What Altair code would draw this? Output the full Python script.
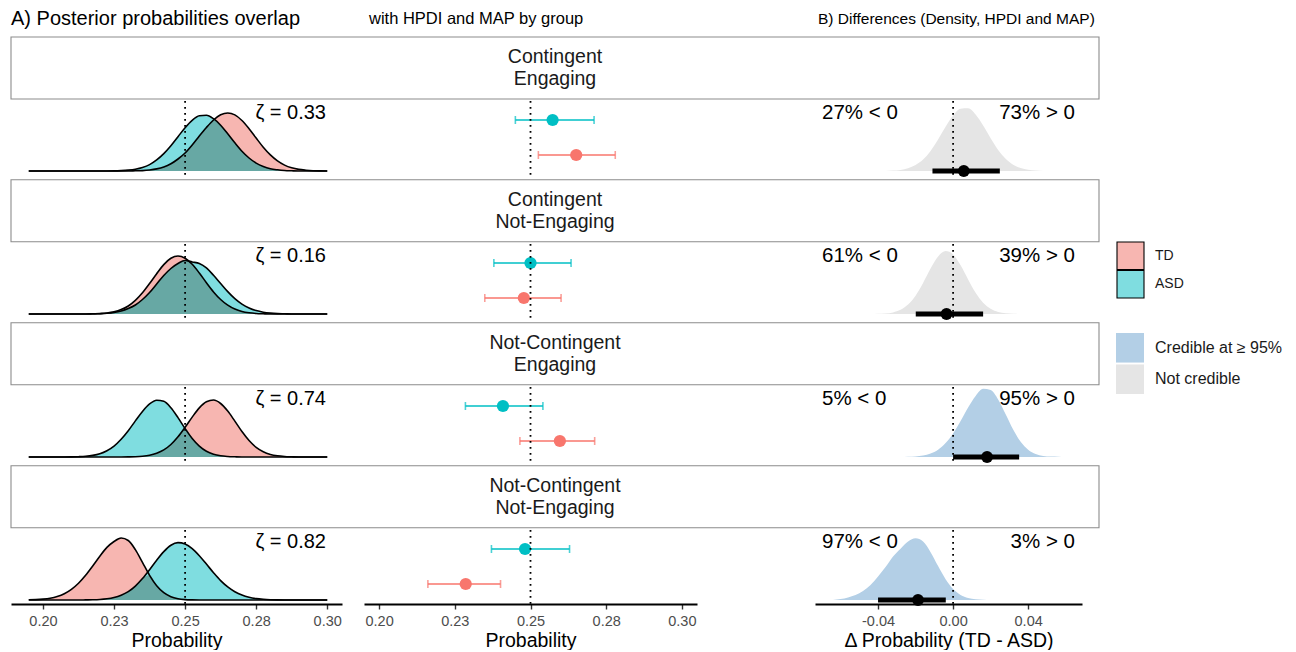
import altair as alt
import pandas as pd

FONT = "Liberation Sans"

# ---------------- data ----------------
conditions = ["Contingent\nEngaging", "Contingent\nNot-Engaging",
              "Not-Contingent\nEngaging", "Not-Contingent\nNot-Engaging"]
zeta = [0.33, 0.16, 0.74, 0.82]
groups = ["TD", "ASD"]

prob_grid = [0.195, 0.1975, 0.2, 0.2025, 0.205, 0.2075, 0.21, 0.2125, 0.215, 0.2175,
             0.22, 0.2225, 0.225, 0.2275, 0.23, 0.2325, 0.235, 0.2375, 0.24, 0.2425,
             0.245, 0.2475, 0.25, 0.2525, 0.255, 0.2575, 0.26, 0.2625, 0.265, 0.2675,
             0.27, 0.2725, 0.275, 0.2775, 0.28, 0.2825, 0.285, 0.2875, 0.29, 0.2925,
             0.295, 0.2975, 0.3]

dens_td_1 = [0, 0, 0, 0, 0, 0, 0, 0, 0, 0, 0, 0, 0, 0, 0,
             0.2, 0.4, 1.0, 2.1, 4.0, 7.2, 12.0, 18.0, 26.0, 35.0, 43.5, 51.0, 56.2, 58.0,
             56.1, 50.5, 42.3, 32.9, 23.8, 16.1, 10.1, 5.9, 3.2, 1.6, 0.8, 0.3, 0.1, 0]
dens_asd_1 = [0, 0, 0, 0, 0, 0, 0, 0, 0, 0, 0, 0,
              0.1, 0.4, 0.9, 1.8, 3.5, 6.4, 11.1, 17.4, 25.3, 34.3, 43.3, 50.7, 55.2, 55.8,
              52.3, 45.8, 37.2, 28.2, 19.8, 13.0, 7.9, 4.5, 2.3, 1.2, 0.5, 0.2, 0, 0, 0, 0, 0]
dens_td_2 = [0, 0, 0, 0, 0, 0, 0, 0, 0,
             0.2, 0.4, 1.0, 2.2, 4.4, 8.0, 13.6, 21.2, 30.4, 40.3, 49.4, 55.7, 58.0, 55.8,
             49.7, 41.0, 31.3, 22.1, 14.5, 8.8, 4.9, 2.5, 1.2, 0.5, 0.2,
             0, 0, 0, 0, 0, 0, 0, 0, 0]
dens_asd_2 = [0, 0, 0, 0, 0, 0, 0, 0, 0, 0,
              0.3, 0.7, 1.5, 3.0, 5.5, 9.0, 14.5, 21.5, 30.0, 38.5, 45.5, 50.5, 53.5, 52.0,
              50.5, 46.1, 38.7, 30.5, 22.4, 15.4, 9.9, 6.0, 3.4, 1.8, 0.9, 0.4, 0.2,
              0, 0, 0, 0, 0, 0]
dens_td_3 = [0, 0, 0, 0, 0, 0, 0, 0, 0, 0, 0, 0, 0, 0,
             0.1, 0.3, 0.8, 1.8, 3.8, 7.1, 12.5, 20.2, 29.7, 39.9, 49.1, 55.2, 57.0, 53.5,
             45.9, 35.9, 25.5, 16.5, 9.7, 5.3, 2.6, 1.2, 0.5, 0.2, 0, 0, 0, 0, 0]
dens_asd_3 = [0, 0, 0, 0, 0, 0,
              0.1, 0.3, 0.7, 1.6, 3.3, 6.3, 10.9, 17.7, 26.3, 36.1, 45.6, 53.1, 56.8, 55.7,
              49.3, 39.4, 28.4, 18.5, 10.9, 5.8, 2.8, 1.2, 0.5, 0.2,
              0, 0, 0, 0, 0, 0, 0, 0, 0, 0, 0, 0, 0]
dens_td_4 = [0.2, 0.4, 0.9, 1.8, 3.5, 6.3, 10.7, 16.8, 24.8, 34.1, 43.8, 52.6, 58.5, 62.0,
             59.5, 50.4, 37.6, 24.7, 14.3, 7.3, 3.3, 1.3, 0.4, 0.1,
             0, 0, 0, 0, 0, 0, 0, 0, 0, 0, 0, 0, 0, 0, 0, 0, 0, 0, 0]
dens_asd_4 = [0, 0, 0, 0, 0, 0, 0, 0,
              0.1, 0.2, 0.5, 1.2, 2.5, 4.8, 8.4, 13.9, 21.4, 30.3, 39.8, 48.4, 54.8, 57.4,
              56.0, 51.4, 44.3, 35.9, 27.3, 19.4, 13.1, 8.3, 4.9, 2.7, 1.4, 0.7, 0.3, 0.1,
              0, 0, 0, 0, 0, 0, 0]
dens_td = [dens_td_1, dens_td_2, dens_td_3, dens_td_4]
dens_asd = [dens_asd_1, dens_asd_2, dens_asd_3, dens_asd_4]

# MAP and HPDI by group
map_td = [0.2651, 0.2478, 0.2597, 0.2286]
lo_td = [0.2526, 0.2349, 0.2465, 0.2161]
hi_td = [0.2780, 0.2601, 0.2712, 0.2401]
map_asd = [0.2573, 0.2500, 0.2409, 0.2482]
lo_asd = [0.2450, 0.2379, 0.2285, 0.2371]
hi_asd = [0.2710, 0.2634, 0.2541, 0.2629]

# differences TD - ASD
diff_grid = [-0.064, -0.06, -0.056, -0.052, -0.048, -0.044, -0.04, -0.036, -0.032, -0.028,
             -0.024, -0.02, -0.016, -0.012, -0.008, -0.004, 0.0, 0.004, 0.008, 0.012,
             0.016, 0.02, 0.024, 0.028, 0.032, 0.036, 0.04, 0.044, 0.048, 0.052,
             0.056, 0.06, 0.064]
diff_dens_1 = [0, 0, 0, 0, 0, 0, 0, 0,
               0.4, 1.1, 2.7, 5.9, 11.4, 20.0, 31.5, 44.2, 55.5, 62.3, 62.7, 56.4,
               45.4, 32.7, 21.1, 12.2, 6.3, 2.9, 1.2, 0.4, 0, 0, 0, 0, 0]
diff_dens_2 = [0, 0, 0, 0, 0, 0,
               0.2, 0.5, 1.6, 4.2, 9.4, 18.3, 31.0, 45.4, 57.5, 62.9, 59.6, 48.8, 34.6,
               21.2, 11.2, 5.2, 2.0, 0.7, 0.2, 0, 0, 0, 0, 0, 0, 0, 0]
diff_dens_3 = [0, 0, 0, 0, 0, 0, 0, 0, 0, 0,
               0.2, 0.6, 1.5, 3.5, 7.3, 13.9, 23.6, 36.0, 49.5, 61.1, 68.2, 66.9, 57.5,
               42.7, 27.4, 15.2, 7.3, 3.0, 1.1, 0.4, 0.2, 0, 0]
diff_dens_4 = [0, 1.0, 2.6, 5.0, 9.0, 15.0, 23.5, 33.0, 43.5, 51.3, 58.6, 61.7, 58.4, 47.8,
               33.9, 20.8, 11.0, 5.1, 2.0, 0.7, 0.2,
               0, 0, 0, 0, 0, 0, 0, 0, 0, 0, 0, 0]
diff_dens = [diff_dens_1, diff_dens_2, diff_dens_3, diff_dens_4]
diff_map = [0.0057, -0.0035, 0.0181, -0.0187]
diff_lo = [-0.0110, -0.0199, 0.0000, -0.0400]
diff_hi = [0.0249, 0.0160, 0.0352, -0.0039]
pct_below = [27, 61, 5, 97]
pct_above = [73, 39, 95, 3]
cred_labels = ["Credible at ≥ 95%", "Not credible"]
status = ["Not credible", "Not credible", "Credible at ≥ 95%", "Credible at ≥ 95%"]

prob_ticks = [0.20, 0.225, 0.25, 0.275, 0.30]
prob_tick_labels = ["0.20", "0.23", "0.25", "0.28", "0.30"]
diff_ticks = [-0.04, 0.0, 0.04]
diff_tick_labels = ["-0.04", "0.00", "0.04"]

titles = ["A) Posterior probabilities overlap", "with HPDI and MAP by group",
          "B) Differences (Density, HPDI and MAP)"]

# ---------------- style ----------------
TD_COL, ASD_COL = "#F8766D", "#00BFC4"
group_col = {"TD": TD_COL, "ASD": ASD_COL}
TD_FILL, ASD_FILL, OV_FILL = "#F7B6B1", "#7FDDE0", "#67A8A4"
CRED_FILL, NOT_FILL = "#B3CFE6", "#E5E5E5"
status_fill = {"Credible at ≥ 95%": CRED_FILL, "Not credible": NOT_FILL}

PW1, PW2, PW3, PH = 331, 333, 267, 74
GAP, SPACER = 22, 74
SW = 1088
XD1 = [0.18875, 0.3052]
XD2 = [0.195, 0.305]
XD3 = [-0.0736, 0.0687]
YD = [-4, 70]
ys = alt.Scale(domain=YD, nice=False, zero=False)


def label_expr(ticks, labels):
    expr = "''"
    for t, l in reversed(list(zip(ticks, labels))):
        expr = f"abs(datum.value - ({t})) < 1e-9 ? '{l}' : {expr}"
    return expr


def x_axis(show, ticks, labels, title):
    if not show:
        return None
    return alt.Axis(values=ticks, labelExpr=label_expr(ticks, labels), title=title,
                    grid=False, labelFlush=False,
                    domainColor="black", domainWidth=1.8,
                    tickColor="#333333", tickWidth=1.4, tickSize=5,
                    labelColor="#4D4D4D", labelFontSize=14.5, labelFont=FONT, labelPadding=5,
                    titleColor="black", titleFontSize=19.5, titleFont=FONT,
                    titleFontWeight="normal", titlePadding=4)


def dotted(field, value, X):
    return alt.Chart(pd.DataFrame({field: [value]})).mark_rule(
        color="black", strokeWidth=1.8, strokeDash=[1.8, 4.2]).encode(x=X)


def panel_overlap(r, bottom):
    df = pd.DataFrame({"p": prob_grid, "TD": dens_td[r], "ASD": dens_asd[r]})
    df["overlap"] = df[["TD", "ASD"]].min(axis=1)
    xs = alt.Scale(domain=XD1, nice=False, zero=False)
    X = alt.X("p:Q", scale=xs, axis=x_axis(bottom, prob_ticks, prob_tick_labels, "Probability"))
    base = alt.Chart(df)
    layers = [
        base.mark_area(color=TD_FILL, interpolate="monotone").encode(
            x=X, y=alt.Y("TD:Q", scale=ys, axis=None), y2=alt.datum(0)),
        base.mark_area(color=ASD_FILL, interpolate="monotone").encode(
            x=X, y=alt.Y("ASD:Q", scale=ys, axis=None), y2=alt.datum(0)),
        base.mark_area(color=OV_FILL, interpolate="monotone").encode(
            x=X, y=alt.Y("overlap:Q", scale=ys, axis=None), y2=alt.datum(0)),
        base.mark_line(color="black", strokeWidth=1.6, interpolate="monotone").encode(
            x=X, y=alt.Y("TD:Q", scale=ys, axis=None)),
        base.mark_line(color="black", strokeWidth=1.6, interpolate="monotone").encode(
            x=X, y=alt.Y("ASD:Q", scale=ys, axis=None)),
        dotted("p", 0.25, X),
        alt.Chart(pd.DataFrame({"t": [f"ζ = {zeta[r]:.2f}"]})).mark_text(
            align="right", baseline="middle", fontSize=20, font=FONT, color="black").encode(
            x=alt.value(315), y=alt.value(12), text="t:N"),
    ]
    return alt.layer(*layers).properties(width=PW1, height=PH)


def panel_intervals(r, bottom):
    df = pd.DataFrame({"group": groups, "map": [map_td[r], map_asd[r]],
                       "lo": [lo_td[r], lo_asd[r]], "hi": [hi_td[r], hi_asd[r]]})
    df["col"] = df["group"].map(group_col)
    xs = alt.Scale(domain=XD2, nice=False, zero=False)
    ax = x_axis(bottom, prob_ticks, prob_tick_labels, "Probability")

    def X(f):
        return alt.X(f"{f}:Q", scale=xs, axis=ax)

    Y = alt.Y("group:N", scale=alt.Scale(type="point", domain=["ASD", "TD"], range=[19, 54], padding=0),
              axis=None)
    C = alt.Color("col:N", scale=None)
    base = alt.Chart(df)
    layers = [
        base.mark_rule(strokeWidth=1.6).encode(x=X("lo"), x2="hi:Q", y=Y, color=C),
        base.mark_tick(thickness=1.6, size=8, orient="vertical").encode(x=X("lo"), y=Y, color=C),
        base.mark_tick(thickness=1.6, size=8, orient="vertical").encode(x=X("hi"), y=Y, color=C),
        base.mark_circle(size=150, opacity=1).encode(x=X("map"), y=Y, color=C),
        dotted("map", 0.25, X("map")),
    ]
    return alt.layer(*layers).properties(width=PW2, height=PH)


def panel_diff(r, bottom):
    df = pd.DataFrame({"d": diff_grid, "dens": diff_dens[r], "status": status[r]})
    df["fill"] = df["status"].map(status_fill)
    iv = pd.DataFrame({"lo": [diff_lo[r]], "hi": [diff_hi[r]], "map": [diff_map[r]], "base": [0]})
    xs = alt.Scale(domain=XD3, nice=False, zero=False)
    ax = x_axis(bottom, diff_ticks, diff_tick_labels, "Δ Probability (TD - ASD)")

    def X(f):
        return alt.X(f"{f}:Q", scale=xs, axis=ax)

    txt = pd.DataFrame({"l": [f"{pct_below[r]}% < 0"], "r": [f"{pct_above[r]}% > 0"]})
    layers = [
        alt.Chart(df).mark_area(interpolate="monotone").encode(
            x=X("d"), y=alt.Y("dens:Q", scale=ys, axis=None), y2=alt.datum(0),
            fill=alt.Fill("fill:N", scale=None)),
        alt.Chart(iv).mark_rule(color="black", strokeWidth=5).encode(
            x=X("lo"), x2="hi:Q", y=alt.Y("base:Q", scale=ys, axis=None)),
        alt.Chart(iv).mark_circle(size=140, color="black", opacity=1).encode(
            x=X("map"), y=alt.Y("base:Q", scale=ys, axis=None)),
        dotted("d", 0.0, X("d")),
        alt.Chart(txt).mark_text(align="left", baseline="middle", fontSize=20.5, font=FONT,
                                 color="black").encode(x=alt.value(7), y=alt.value(12), text="l:N"),
        alt.Chart(txt).mark_text(align="right", baseline="middle", fontSize=20.5, font=FONT,
                                 color="black").encode(x=alt.value(260), y=alt.value(12), text="r:N"),
    ]
    return alt.layer(*layers).properties(width=PW3, height=PH)


def spacer():
    return alt.Chart(pd.DataFrame({"t": [0]})).mark_rect(opacity=0).encode(
        x=alt.value(0), x2=alt.value(SPACER), y=alt.value(0), y2=alt.value(PH)
    ).properties(width=SPACER, height=PH)


def strip(label, gap):
    df = pd.DataFrame({"t": [label]})
    rect = alt.Chart(df).mark_rect(fill="white", stroke="#8C8C8C", strokeWidth=1.1).encode(
        x=alt.value(0), x2=alt.value(SW), y=alt.value(gap), y2=alt.value(gap + 62))
    text = alt.Chart(df).mark_text(lineBreak="\n", fontSize=19.5, lineHeight=22, font=FONT,
                                   color="#1A1A1A", baseline="middle").encode(
        x=alt.value(SW / 2), y=alt.value(gap + 20), text="t:N")
    return alt.layer(rect, text).properties(width=SW, height=gap + 62)


def header():
    specs = [(titles[0], 0, 20), (titles[1], 358, 16.5), (titles[2], 807, 15.5)]
    layers = []
    for t, xp, fs in specs:
        layers.append(alt.Chart(pd.DataFrame({"t": [t]})).mark_text(
            align="left", baseline="middle", fontSize=fs, font=FONT, color="black").encode(
            x=alt.value(xp), y=alt.value(11), text="t:N"))
    return alt.layer(*layers).properties(width=SW, height=28)


items = [header()]
for r in range(4):
    items.append(strip(conditions[r], 0 if r == 0 else 2.7))
    bottom = (r == 3)
    items.append(alt.hconcat(panel_overlap(r, bottom), panel_intervals(r, bottom), spacer(),
                             panel_diff(r, bottom), spacing=GAP))
main = alt.vconcat(*items, spacing=0)

# legend (drawn from the group / credibility categories)
leg1 = pd.DataFrame({"lab": groups, "fill": [TD_FILL, ASD_FILL]})
y1 = alt.Y("lab:N", scale=alt.Scale(domain=groups, range=[234, 290], paddingInner=0.04, paddingOuter=0),
           axis=None)
r1 = alt.Chart(leg1).mark_rect(stroke="black", strokeWidth=1.1).encode(
    x=alt.value(1), x2=alt.value(28), y=y1, fill=alt.Fill("fill:N", scale=None))
t1 = alt.Chart(leg1).mark_text(align="left", baseline="middle", fontSize=14, font=FONT,
                               color="#1A1A1A").encode(x=alt.value(39), y=y1, text="lab:N")
leg2 = pd.DataFrame({"lab": cred_labels, "fill": [CRED_FILL, NOT_FILL]})
y2 = alt.Y("lab:N", scale=alt.Scale(domain=cred_labels, range=[325, 386], paddingInner=0.06, paddingOuter=0),
           axis=None)
r2 = alt.Chart(leg2).mark_rect().encode(
    x=alt.value(0), x2=alt.value(28), y=y2, fill=alt.Fill("fill:N", scale=None))
t2 = alt.Chart(leg2).mark_text(align="left", baseline="middle", fontSize=16, font=FONT,
                               color="#1A1A1A").encode(x=alt.value(39), y=y2, text="lab:N")
legend = alt.layer(alt.layer(r1, t1), alt.layer(r2, t2)).resolve_scale(y="independent").properties(
    width=170, height=400)

chart = alt.hconcat(main, legend, spacing=16).properties(
    padding={"left": 2, "top": 0, "right": 0, "bottom": 0}
).configure(font=FONT).configure_view(stroke=None)

chart.save("out.html", embed_options={"renderer": "svg", "actions": False})
